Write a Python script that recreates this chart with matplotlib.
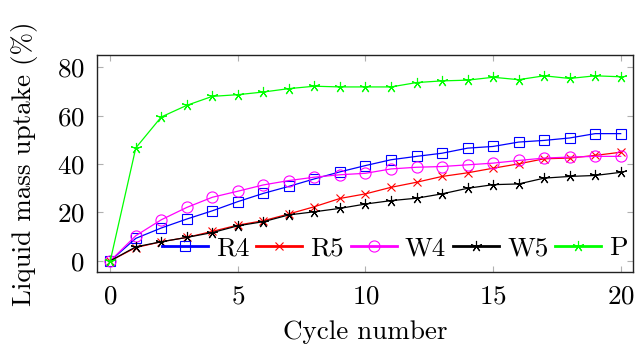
import matplotlib
matplotlib.use('Agg')
import matplotlib.pyplot as plt
import numpy as np

plt.rcParams['font.family'] = 'serif'
plt.rcParams['font.serif'] = ['cmr10']
plt.rcParams['mathtext.fontset'] = 'cm'
plt.rcParams['axes.formatter.use_mathtext'] = True

# data
cycles = list(range(21))
r4 = [0, 9.3, 13.6, 17.3, 20.7, 24.5, 27.9, 30.8, 33.9, 36.8, 39.4, 41.8, 43.2, 44.5, 46.6, 47.3, 49.1, 49.8, 50.8, 52.6, 52.6]
r5 = [0, 5.5, 7.9, 9.7, 12.2, 14.8, 16.6, 19.4, 22.4, 25.8, 27.7, 30.4, 32.5, 34.9, 36.4, 38.3, 40.1, 42.2, 42.5, 43.6, 44.9]
w4 = [0, 10.4, 17.0, 22.1, 26.3, 28.8, 31.4, 33.2, 34.6, 35.6, 36.2, 38.0, 38.7, 39.0, 39.7, 40.4, 41.5, 42.5, 42.9, 43.2, 43.2]
w5 = [0, 5.8, 7.9, 9.7, 11.7, 14.5, 16.2, 19.0, 20.3, 21.7, 23.5, 24.9, 25.9, 27.7, 30.0, 31.5, 31.8, 34.2, 34.9, 35.3, 36.6]
p = [0, 46.7, 59.5, 64.3, 68.0, 68.7, 69.8, 71.2, 72.2, 71.9, 71.9, 71.9, 73.7, 74.4, 74.7, 75.9, 74.9, 76.5, 75.4, 76.5, 76.1]

fig = plt.figure(figsize=(6.37, 3.46), dpi=100)
ax = fig.add_axes([97/637, 1 - 272/346, (632.7 - 97)/637, (272 - 55)/346])

star = (5, 2, 0)
series = [
    (r4, 'R4', 'blue', 's', 7.5),
    (r5, 'R5', 'red', 'x', 5.5),
    (w4, 'W4', 'magenta', 'o', 8),
    (w5, 'W5', 'black', star, 8),
    (p, 'P', '#00ff00', star, 8),
]
for ys, lab, col, mk, ms in series:
    ax.plot(cycles, ys, color=col, lw=0.9, marker=mk, ms=ms, mfc='none',
            mec=col, mew=0.8, label=lab)

ax.set_xlim(-0.52, 20.47)
ax.set_ylim(-4.6, 85.1)
ax.set_xticks([0, 5, 10, 15, 20])
ax.set_yticks([0, 20, 40, 60, 80])
fs = 19.5
ax.tick_params(direction='in', length=4, width=0.8, color='#b0b0b0',
               top=True, right=True, labelsize=fs, pad=9)
for s in ax.spines.values():
    s.set_linewidth(1.0)
    s.set_color('#222222')

ax.set_xlabel('Cycle number', fontsize=fs)
ax.set_ylabel('Liquid mass uptake (%)', fontsize=fs)
ax.xaxis.set_label_coords(0.5, -0.222)
ax.yaxis.set_label_coords(-0.11, 0.5)

leg = ax.legend(ncol=5, loc='center left', frameon=False, fontsize=fs,
                bbox_to_anchor=((161.7 - 97) / 535.7, (272 - 248.5) / 217),
                borderaxespad=0, borderpad=0, handlelength=1.7,
                handletextpad=0.3, columnspacing=0.25)
for h in leg.get_lines():
    h.set_linewidth(2)

fig.savefig('out.png', dpi=100)
